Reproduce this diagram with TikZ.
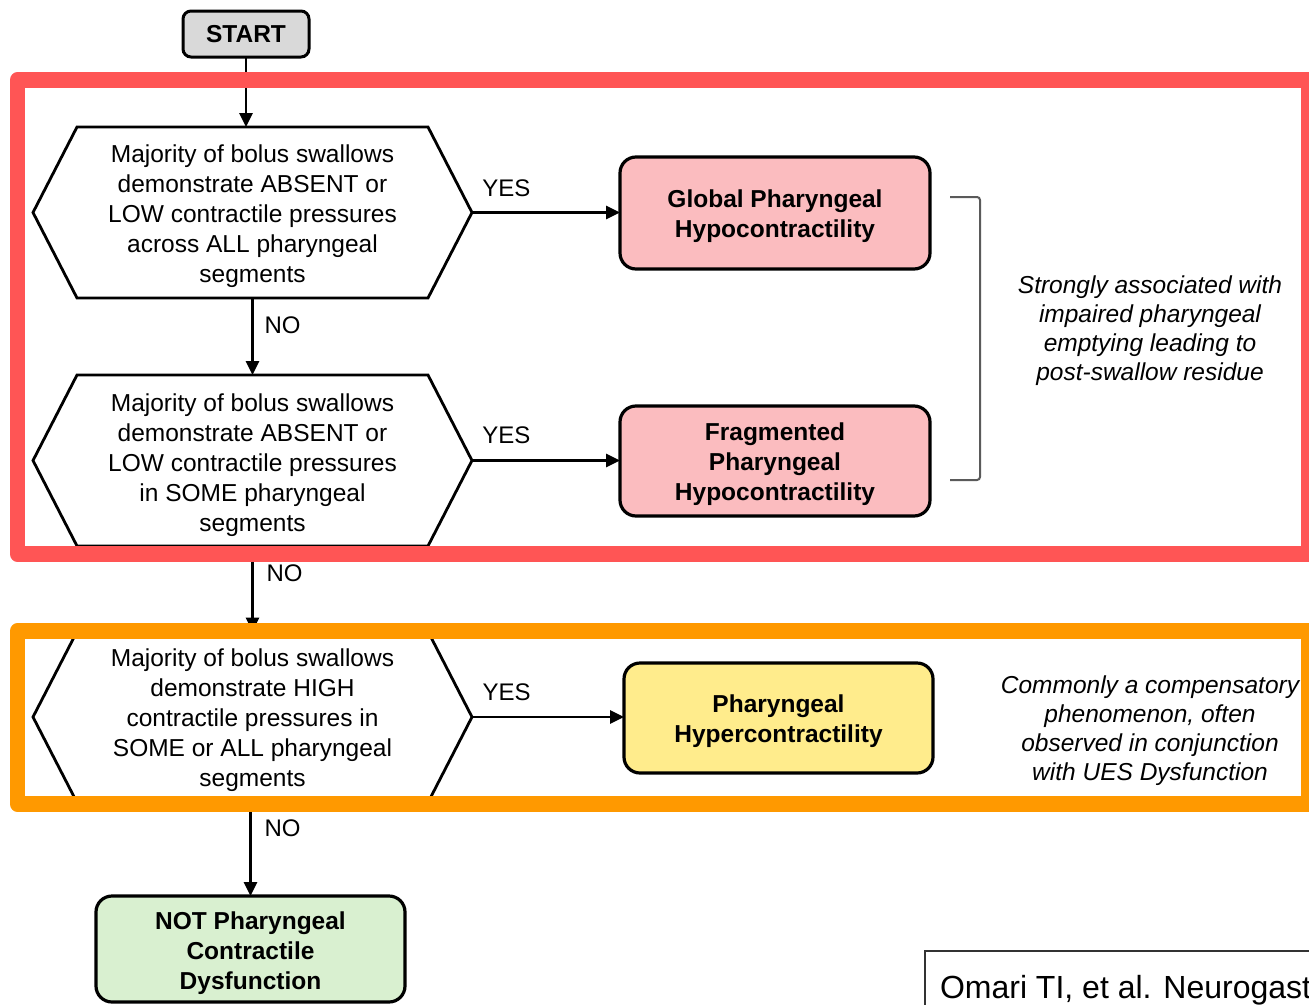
\documentclass[tikz,border=0pt]{standalone}
\usepackage{fontspec}
\setmainfont{Liberation Sans}
\usetikzlibrary{arrows.meta,calc}
\definecolor{startgray}{RGB}{217,217,217}
\definecolor{pinkfill}{RGB}{251,188,191}
\definecolor{yellowfill}{RGB}{255,236,140}
\definecolor{greenfill}{RGB}{217,240,208}
\definecolor{frameRed}{RGB}{255,85,85}
\definecolor{frameOrange}{RGB}{255,153,0}
\definecolor{bracketgray}{RGB}{90,90,90}
\begin{document}
\begin{tikzpicture}[x=1pt,y=-1pt,
  every node/.style={inner sep=0pt, outer sep=0pt},
  txt/.style={font=\fontsize{24.5}{30}\selectfont, align=center},
  boxtxt/.style={font=\bfseries\fontsize{24.5}{30}\selectfont, align=center},
  hexbox/.style={minimum width=439pt, minimum height=171pt},
  hexline/.style={draw=black, line width=2.8pt, line join=miter},
  result/.style={draw=black, line width=3.2pt, rounded corners=16pt, minimum width=310pt, minimum height=112pt},
  flow/.style={-{Triangle[length=14pt,width=13pt]}, line width=2.7pt},
  lbl/.style={font=\fontsize{24}{30}\selectfont},
  note/.style={font=\itshape\fontsize{24.5}{29.2}\selectfont, align=center},
  framebox/.style={line width=15.5pt, line join=round},
]
\useasboundingbox (0,0) rectangle (1309,1004);
\clip (0,0) rectangle (1309,1004);
\fill[white] (0,0) rectangle (1309,1004);

% START
\node[draw, line width=3pt, rounded corners=8pt, fill=startgray, minimum width=126pt, minimum height=46pt, font=\bfseries\fontsize{24.5}{30}\selectfont] (start) at (246,34) {START};

% decision hexagons
\node[hexbox] (h1) at (252.5,212.5) {};
\node[hexbox] (h2) at (252.5,460.5) {};
\node[hexbox] (h3) at (252.5,717) {};
\foreach \h in {h1,h2,h3}{
  \draw[hexline] (\h.west) -- ([xshift=44pt]\h.north west) -- ([xshift=-44pt]\h.north east) -- (\h.east) -- ([xshift=-44pt]\h.south east) -- ([xshift=44pt]\h.south west) -- cycle;
}
\node[txt] (h1t) at ([yshift=-4pt]h1.center) {Majority of bolus swallows\\demonstrate ABSENT or\\LOW contractile pressures\\across ALL pharyngeal\\segments};
\node[txt] (h2t) at ([yshift=-4.5pt]h2.center) {Majority of bolus swallows\\demonstrate ABSENT or\\LOW contractile pressures\\in SOME pharyngeal\\segments};
\node[txt] (h3t) at ([yshift=-3.5pt]h3.center) {Majority of bolus swallows\\demonstrate HIGH\\contractile pressures in\\SOME or ALL pharyngeal\\segments};

% outcome boxes
\node[result, fill=pinkfill] (global) at (775,213) {};
\node[boxtxt] (globalt) at ([yshift=-3pt]global.center) {Global Pharyngeal\\Hypocontractility};
\node[result, fill=pinkfill, minimum height=110pt] (frag) at (775,461) {};
\node[boxtxt] (fragt) at ([yshift=-3pt]frag.center) {Fragmented\\Pharyngeal\\Hypocontractility};
\node[result, fill=yellowfill, minimum width=309pt, minimum height=110pt] (hyper) at (778.5,718) {};
\node[boxtxt] (hypert) at ([yshift=-3.5pt]hyper.center) {Pharyngeal\\Hypercontractility};
\node[result, fill=greenfill, minimum width=309pt, minimum height=106pt] (notbox) at (250.5,949) {};
\node[boxtxt] (notboxt) at ([yshift=-4pt]notbox.center) {NOT Pharyngeal\\Contractile\\Dysfunction};

% connectors
\draw[flow] (start.south) -- (start.south |- h1.north);
\draw[flow] (h1.south) -- (h2.north) node[lbl, pos=0.36, anchor=west, xshift=12pt] {NO};
\draw[flow] (h2.south) -- (h3.north) node[lbl, pos=0.32, anchor=west, xshift=14pt] {NO};
\draw[flow] (notbox.north |- h3.south) -- (notbox.north) node[lbl, pos=0.28, anchor=west, xshift=14pt] {NO};
\draw[flow] (h1.east) -- (h1.east -| global.west) node[lbl, pos=0.07, anchor=base west, yshift=16pt] {YES};
\draw[flow] (h2.east) -- (h2.east -| frag.west) node[lbl, pos=0.07, anchor=base west, yshift=17pt] {YES};
\draw[flow] (h3.east) -- (h3.east -| hyper.west) node[lbl, pos=0.07, anchor=base west, yshift=17pt] {YES};

% bracket and notes
\coordinate (brtop) at (950,197);
\coordinate (brbot) at (950,480);
\draw[bracketgray, line width=2pt, rounded corners=3pt] (brtop) -- (980,197) -- (980,480) -- (brbot);
\node[note] (note1) at (1150,330.5) {Strongly associated with\\impaired pharyngeal\\emptying leading to\\post-swallow residue};
\node[note] (note2) at (1150,730.5) {Commonly a compensatory\\phenomenon, often\\observed in conjunction\\with UES Dysfunction};

% highlight frames
\draw[framebox, frameRed] (17.5,80) rectangle (1309,554);
\draw[framebox, frameOrange] (17.5,631) rectangle (1309,804);

% citation box
\node[draw=black!80, line width=1.5pt, anchor=north west, minimum width=420pt, minimum height=80pt] (citebox) at (925,951) {};
\node[anchor=base west, font=\fontsize{32}{38}\selectfont] (cite) at (940,998) {Omari TI, et al. Neurogast};
\end{tikzpicture}
\end{document}
